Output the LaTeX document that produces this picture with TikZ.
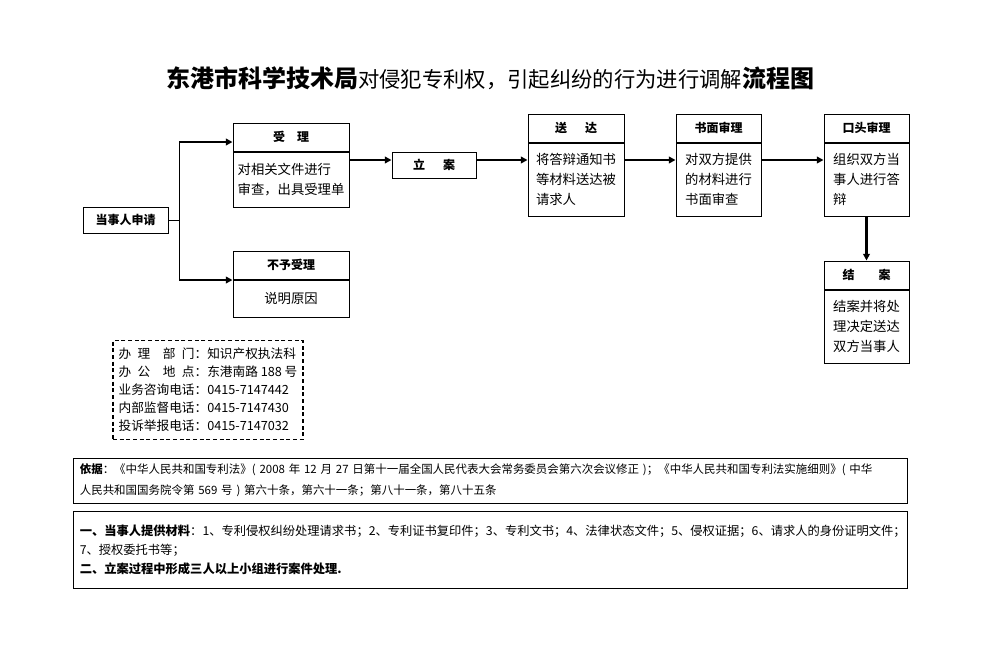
\documentclass[tikz,border=0pt]{standalone}
\usepackage{fontspec}
\setmainfont{Noto Sans CJK SC}
\usepackage{tikz}
\usetikzlibrary{positioning}
\usetikzlibrary{arrows.meta}
\usetikzlibrary{calc}

\begin{document}
\begin{tikzpicture}[x=0.75pt,y=-0.75pt]
	\useasboundingbox (0,0) rectangle (1002,668);

	\node (title) at (490,78) {\fontsize{18}{20}\selectfont\bfseries 东港市科学技术局{\mdseries\fontsize{16}{20}\selectfont 对侵犯专利权，引起纠纷的行为进行调解}流程图};

	% step headings
	\begin{scope}[every node/.style={draw,line width=0.75pt,inner sep=0pt,minimum height=21pt,minimum width=63.75pt,font=\fontsize{9}{11}\selectfont\bfseries}]
	    \node[minimum height=19.5pt] (apply) at (125.5,220) {当事人申请};
	    \node[minimum width=87pt] (accepthead) at (291,137) {受\hspace{1em}理};
	    \node[minimum width=87pt] (rejecthead) at (291,265) {不予受理};
	    \node[minimum width=63pt,minimum height=19.5pt] (filing) at (434,165) {立\hspace{1.5em}案};
	    \node[minimum width=72pt] (servehead) at (576,128) {送\hspace{1.5em}达};
	    \node (writtenhead) at (718.5,128) {书面审理};
	    \node (oralhead) at (866.5,128) {口头审理};
	    \node (closehead) at (866.5,275) {结\hspace{2em}案};
	\end{scope}

	% step contents
	\begin{scope}[every node/.style={draw,line width=0.75pt,inner sep=0pt,align=left,minimum height=54.75pt,minimum width=63.75pt,font=\fontsize{10}{15}\selectfont}]
	    \node[minimum width=87pt,minimum height=41.25pt,below=0pt of accepthead] (acceptbody) {对相关文件进行\\审查，出具受理单};
	    \node[minimum width=87pt,minimum height=27.75pt,below=0pt of rejecthead] (rejectbody) {说明原因};
	    \node[minimum width=72pt,below=0pt of servehead] (servebody) {将答辩通知书\\等材料送达被\\请求人};
	    \node[below=0pt of writtenhead] (writtenbody) {对双方提供\\的材料进行\\书面审查};
	    \node[below=0pt of oralhead] (oralbody) {组织双方当\\事人进行答\\辩};
	    \node[below=0pt of closehead] (closebody) {结案并将处\\理决定送达\\双方当事人};
	\end{scope}

	% contact info and notes
	\node[draw,line width=1.1pt,dash pattern=on 3pt off 2pt,minimum width=142.5pt,minimum height=74.25pt,inner xsep=4pt,align=left,font=\fontsize{9.5}{13.5}\selectfont] (contact) at (208,390)
	    {办\hspace{0.5em}理\hspace{1em}部\hspace{0.5em}门：知识产权执法科\\
	     办\hspace{0.5em}公\hspace{1em}地\hspace{0.5em}点：东港南路 188 号\\
	     业务咨询电话：0415-7147442\\
	     内部监督电话：0415-7147430\\
	     投诉举报电话：0415-7147032};
	\node[draw,line width=0.75pt,inner xsep=5pt,text width=616pt,minimum height=33.75pt,align=left,font=\fontsize{8.6}{16}\selectfont] (basis) at (490.5,480.5)
	    {\textbf{依据}：《中华人民共和国专利法》( 2008 年 12 月 27 日第十一届全国人民代表大会常务委员会第六次会议修正 )；《中华人民共和国专利法实施细则》( 中华\\人民共和国国务院令第 569 号 ) 第六十条，第六十一条；第八十一条，第八十五条};
	\node[draw,line width=0.75pt,inner xsep=5pt,text width=616pt,minimum height=57.75pt,align=left,font=\fontsize{9.2}{14.25}\selectfont] (notes) at (490.5,549.5)
	    {\textbf{一、当事人提供材料}：1、专利侵权纠纷处理请求书；2、专利证书复印件；3、专利文书；4、法律状态文件；5、侵权证据；6、请求人的身份证明文件；\\
	     7、授权委托书等；\\
	     \textbf{二、立案过程中形成三人以上小组进行案件处理.}\\[4pt]};

	\coordinate (fork) at (179,220);
	\coordinate (up) at (179,142);
	\coordinate (down) at (179,280);
	\coordinate (row) at (0,160);

	\draw[line width=0.75pt] (apply.east) -- (fork);
	\draw[line width=0.75pt] (up) -- (down);

	\begin{scope}[>={Triangle[length=5pt,width=5pt]},
	              every edge/.style={draw=black,line width=1.6pt}]
	    \path [->] (up) edge (up -| accepthead.west);
	    \path [->] (down) edge (down -| rejecthead.west);
	    \path [->] (acceptbody.east |- row) edge (filing.west |- row);
	    \path [->] (filing.east |- row) edge (servebody.west |- row);
	    \path [->] (servebody.east |- row) edge (writtenbody.west |- row);
	    \path [->] (writtenbody.east |- row) edge (oralbody.west |- row);
	    \path [->] (oralbody.south) edge (closehead.north);
	\end{scope}
\end{tikzpicture}
\end{document}
